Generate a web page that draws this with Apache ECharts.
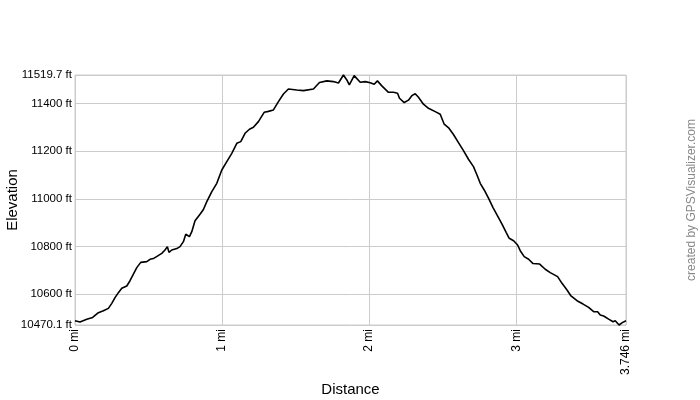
<!DOCTYPE html>
<html><head><meta charset="utf-8">
<script src="https://cdn.jsdelivr.net/npm/echarts@6/dist/echarts.min.js"></script>
<style>html,body{margin:0;padding:0;background:#fff}#c{width:700px;height:400px}</style>
</head><body><div id="c"></div>
<script>
const distanceMi = [0,0.034,0.080,0.120,0.159,0.193,0.227,0.250,0.272,0.295,0.318,0.352,0.374,0.397,0.420,0.447,0.488,0.510,0.533,0.560,0.590,0.612,0.628,0.639,0.658,0.692,0.714,0.737,0.753,0.778,0.794,0.816,0.850,0.873,0.896,0.930,0.964,0.998,1.032,1.066,1.100,1.127,1.156,1.186,1.213,1.247,1.286,1.315,1.349,1.383,1.417,1.451,1.508,1.553,1.621,1.662,1.712,1.757,1.791,1.825,1.848,1.865,1.898,1.939,1.973,2.007,2.034,2.056,2.086,2.131,2.165,2.193,2.206,2.238,2.267,2.290,2.313,2.335,2.369,2.403,2.449,2.483,2.510,2.540,2.573,2.607,2.641,2.675,2.709,2.733,2.755,2.782,2.812,2.841,2.869,2.903,2.932,2.952,2.982,3.009,3.027,3.054,3.084,3.114,3.159,3.197,3.231,3.281,3.311,3.345,3.372,3.413,3.454,3.492,3.526,3.553,3.571,3.594,3.628,3.658,3.673,3.699,3.721,3.746];
const elevationFt = [10488,10483,10494,10502,10522,10530,10540,10561,10585,10606,10624,10634,10656,10684,10711,10733,10736,10746,10749,10759,10771,10785,10799,10775,10785,10791,10799,10820,10851,10841,10862,10908,10935,10955,10988,11030,11065,11121,11156,11191,11233,11240,11275,11292,11300,11324,11363,11367,11373,11408,11440,11461,11457,11454,11461,11488,11495,11492,11486,11519.7,11499,11478,11517,11489,11492,11487,11481,11495,11474,11447,11447,11443,11422,11404,11414,11433,11441,11426,11397,11380,11366,11355,11313,11298,11270,11236,11202,11166,11135,11100,11065,11037,11002,10964,10932,10894,10858,10834,10824,10806,10782,10757,10746,10728,10726,10704,10690,10673,10645,10617,10592,10572,10558,10544,10526,10526,10512,10508,10495,10484,10488,10470.1,10480,10488];
const yTicks = [10470.1,10600,10800,11000,11200,11400,11519.7];
const xTicks = [0,1,2,3,3.746];
const yMin = 10470.1, yMax = 11519.7, xMax = 3.746;

const chart = echarts.init(document.getElementById('c'));
const font = '"Liberation Sans", Arial, sans-serif';
chart.setOption({
  animation: false,
  backgroundColor: '#fff',
  grid: { left: 75, right: 74, top: 75, bottom: 75, show: true, borderColor: '#cccccc', borderWidth: 1,
    outerBoundsMode: 'none', containLabel: false },
  xAxis: {
    type: 'value', min: 0, max: xMax,
    name: 'Distance', nameLocation: 'middle', nameGap: 57, nameMoveOverlap: false,
    nameTextStyle: { fontFamily: font, fontSize: 15, color: '#000' },
    axisLine: { show: false },
    axisTick: { show: false, customValues: xTicks },
    axisLabel: { customValues: xTicks, rotate: 90, fontFamily: font, fontSize: 12, color: '#000', margin: 4,
      formatter: v => v + ' mi' },
    splitLine: { show: true, lineStyle: { color: '#cccccc', width: 1 } }
  },
  yAxis: {
    type: 'value', min: yMin, max: yMax,
    name: 'Elevation', nameLocation: 'middle', nameGap: 55, nameMoveOverlap: false,
    nameTextStyle: { fontFamily: font, fontSize: 15, color: '#000' },
    axisLine: { show: false },
    axisTick: { show: false, customValues: yTicks },
    axisLabel: { customValues: yTicks, fontFamily: font, fontSize: 11.5, color: '#000', margin: 3,
      formatter: v => v + ' ft' },
    splitLine: { show: true, lineStyle: { color: '#cccccc', width: 1 } }
  },
  graphic: [{
    type: 'text', left: 686, top: 'middle', rotation: Math.PI / 2,
    style: { text: 'created by GPSVisualizer.com', fill: '#888', font: '12px "Liberation Sans", Arial, sans-serif' }
  }],
  series: [{
    type: 'line', showSymbol: false, symbol: 'none',
    data: distanceMi.map((d, i) => [d, elevationFt[i]]),
    lineStyle: { color: '#000', width: 1.6 },
    clip: false
  }]
});
</script></body></html>
